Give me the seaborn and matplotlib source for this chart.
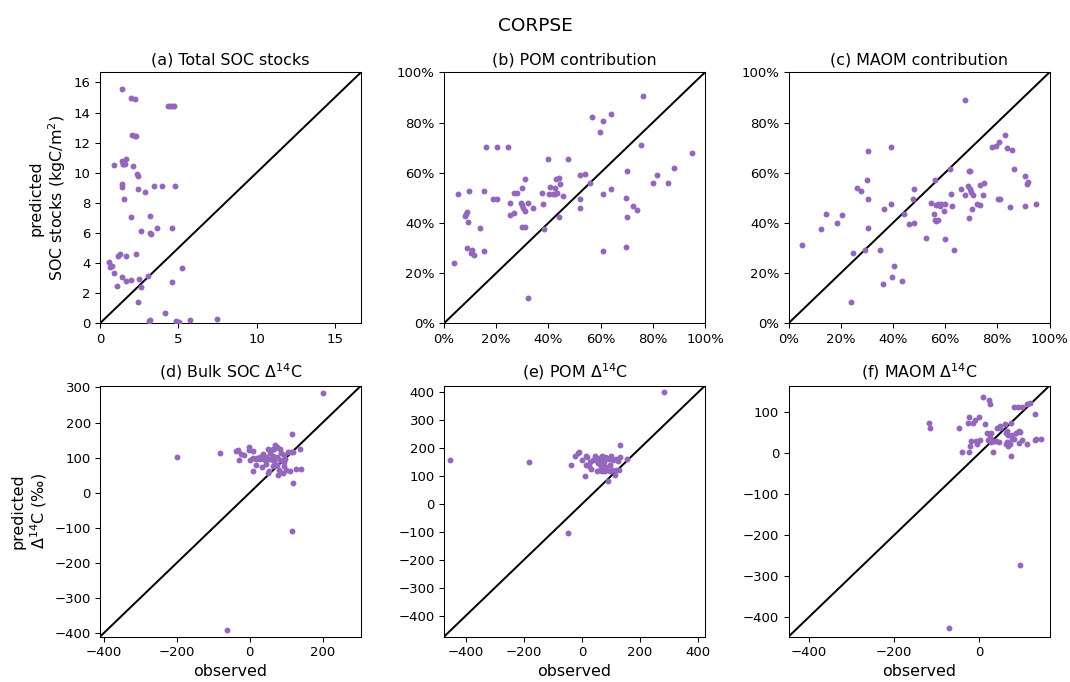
import numpy as np
import pandas as pd
import matplotlib
matplotlib.use("Agg")
import matplotlib.pyplot as plt
import seaborn as sns
from matplotlib.ticker import PercentFormatter

# ---------------- data ----------------
obs_a = [1.43, 1.96, 2.26, 4.32, 4.47, 4.60, 4.70, 2.06, 2.23, 2.32, 0.87, 1.40, 1.49, 1.66, 1.62, 1.45,
         2.10, 2.38, 2.40, 1.40, 1.40, 2.40, 2.89, 3.45, 3.98, 4.79, 1.51, 1.96, 3.21, 2.60, 3.17, 3.26,
         3.64, 4.60, 1.17, 1.28, 1.66, 2.30, 0.60, 0.62, 0.77, 0.87, 1.40, 1.66, 1.98, 2.47, 3.04, 5.23,
         1.09, 2.64, 4.62, 2.43, 4.15, 3.10, 3.21, 4.85, 5.02, 5.77, 7.49]
pred_a = [15.57, 14.94, 14.92, 14.46, 14.46, 14.46, 14.46, 12.48, 12.44, 12.42, 10.53, 10.75, 10.55, 10.90,
          10.58, 10.60, 10.47, 9.90, 9.78, 9.27, 9.05, 8.94, 8.69, 9.09, 9.09, 9.09, 8.25, 7.07, 7.12, 6.16,
          6.03, 5.94, 6.30, 6.32, 4.50, 4.57, 4.48, 4.59, 4.08, 3.75, 3.79, 3.37, 3.06, 2.84, 2.86, 2.93,
          3.15, 3.68, 2.46, 2.39, 2.73, 1.42, 0.71, 0.16, 0.22, 0.16, 0.09, 0.20, 0.27]

obs_b = [0.764, 0.640, 0.567, 0.608, 0.598, 0.160, 0.204, 0.244, 0.756, 0.951, 0.400, 0.474, 0.880, 0.700,
         0.817, 0.522, 0.542, 0.310, 0.430, 0.439, 0.443, 0.799, 0.860, 0.561, 0.405, 0.425, 0.298, 0.152,
         0.096, 0.054, 0.268, 0.278, 0.374, 0.401, 0.419, 0.432, 0.427, 0.455, 0.639, 0.609, 0.186, 0.204,
         0.522, 0.699, 0.253, 0.296, 0.299, 0.304, 0.312, 0.323, 0.378, 0.342, 0.521, 0.725, 0.741, 0.269,
         0.253, 0.086, 0.080, 0.087, 0.442, 0.701, 0.093, 0.138, 0.299, 0.310, 0.384, 0.087, 0.106, 0.103,
         0.116, 0.152, 0.610, 0.699, 0.037, 0.323]
pred_b = [0.907, 0.834, 0.821, 0.807, 0.764, 0.701, 0.701, 0.701, 0.710, 0.680, 0.656, 0.653, 0.618, 0.608,
          0.591, 0.592, 0.595, 0.574, 0.574, 0.580, 0.555, 0.559, 0.558, 0.558, 0.544, 0.538, 0.538, 0.529,
          0.526, 0.514, 0.518, 0.518, 0.521, 0.514, 0.514, 0.519, 0.514, 0.509, 0.537, 0.517, 0.495, 0.495,
          0.495, 0.498, 0.479, 0.481, 0.471, 0.461, 0.446, 0.479, 0.474, 0.459, 0.459, 0.467, 0.453, 0.441,
          0.433, 0.436, 0.429, 0.442, 0.422, 0.422, 0.404, 0.378, 0.384, 0.384, 0.374, 0.300, 0.292, 0.282,
          0.271, 0.287, 0.290, 0.304, 0.240, 0.101]

obs_c = [0.678, 0.830, 0.808, 0.781, 0.794, 0.836, 0.856, 0.305, 0.392, 0.617, 0.690, 0.697, 0.863, 0.908,
         0.919, 0.913, 0.302, 0.560, 0.748, 0.732, 0.261, 0.276, 0.481, 0.660, 0.688, 0.695, 0.700, 0.705,
         0.623, 0.678, 0.746, 0.304, 0.478, 0.803, 0.809, 0.546, 0.574, 0.585, 0.598, 0.580, 0.565, 0.627,
         0.723, 0.733, 0.393, 0.364, 0.847, 0.905, 0.947, 0.704, 0.595, 0.145, 0.204, 0.441, 0.559, 0.186,
         0.461, 0.481, 0.562, 0.571, 0.565, 0.691, 0.303, 0.123, 0.527, 0.601, 0.052, 0.293, 0.350, 0.636,
         0.247, 0.405, 0.396, 0.435, 0.363, 0.238]
pred_c = [0.891, 0.752, 0.721, 0.704, 0.705, 0.699, 0.692, 0.687, 0.703, 0.615, 0.608, 0.608, 0.614, 0.587,
          0.563, 0.554, 0.571, 0.571, 0.559, 0.550, 0.540, 0.526, 0.534, 0.534, 0.546, 0.534, 0.523, 0.511,
          0.517, 0.513, 0.513, 0.494, 0.497, 0.497, 0.497, 0.481, 0.477, 0.477, 0.474, 0.467, 0.471, 0.467,
          0.474, 0.473, 0.477, 0.454, 0.465, 0.466, 0.475, 0.456, 0.449, 0.436, 0.433, 0.436, 0.436, 0.401,
          0.396, 0.400, 0.410, 0.413, 0.408, 0.418, 0.381, 0.375, 0.339, 0.336, 0.311, 0.292, 0.293, 0.293,
          0.279, 0.228, 0.185, 0.170, 0.158, 0.085]

obs_d = [200, -200, -81, -61, 116, 138, 117, 120, 128, 142, 100, 110, 79, 92, 77, 50, 8, 16, -30, -37, -31,
         -24, -16, -3, -2, 9, 0, 20, 27, 35, 41, 46, 52, 58, 64, 70, 76, 66, 82, 105, 112, 119, 95, 97, 94,
         94, 82, 69, 75, 85, 54, 64, 35, 64, 76, 68, 50, 55, 37, 29, 16, 9, 58, 46]
pred_d = [283, 103, 113, -391, 167, 126, -108, 27, 67, 68, 66, 62, 64, 56, 51, 57, 62, 78, 94, 120, 121,
          110, 108, 131, 121, 119, 94, 98, 95, 100, 92, 102, 97, 96, 126, 137, 130, 125, 125, 115, 115, 115,
          108, 96, 87, 76, 94, 78, 80, 113, 61, 76, 73, 104, 102, 90, 125, 114, 110, 103, 97, 100, 96, 83]

obs_e = [283, -455, -182, -49, -36, 91, 9, 130, 155, -24, -15, -10, 0, 13, 18, 15, 29, 38, 32, 53, 26, 61,
         69, 78, 87, 93, 99, 47, 55, 67, 75, 84, 95, 107, 118, 132, 124, 103, 116, 128, 113, 98, 79, 69, 61,
         72, 84, 67, 75, 61, 70, 44, 52]
pred_e = [402, 158, 152, -105, 140, 82, 102, 211, 162, 173, 182, 186, 158, 173, 167, 140, 151, 156, 124,
          117, 137, 164, 173, 168, 164, 160, 170, 158, 146, 137, 149, 131, 139, 158, 161, 168, 154, 123, 123,
          120, 105, 119, 118, 119, 123, 130, 126, 161, 156, 144, 140, 170, 164]

obs_f = [-71, 94, -118, -116, -48, -42, -24, -24, -27, -14, -10, -1, -20, -8, 2, -5, -22, 9, 22, 25, 13, 18,
         28, 24, 20, 27, 33, 39, 45, 31, 49, 64, 59, 75, 62, 67, 64, 71, 74, 77, 82, 77, 86, 92, 96, 93, 100,
         111, 82, 90, 100, 111, 118, 129, 130, 132, 145, 41, 47, 61, 66]
pred_f = [-427, -272, 73, 61, 62, 2, 2, 89, 72, 73, 81, 87, 30, 30, 33, 23, 18, 137, 130, 120, 71, 49, 49,
          38, 31, 26, 29, 30, 28, 2, 61, 53, 71, 73, 23, 16, 26, 21, -6, 44, 35, 35, 50, 53, 52, 25, 33, 23,
          111, 111, 111, 120, 121, 96, 32, 34, 34, 61, 67, 49, 43]

titles = ["(a) Total SOC stocks", "(b) POM contribution", "(c) MAOM contribution",
          "(d) Bulk SOC Δ$^{14}$C", "(e) POM Δ$^{14}$C", "(f) MAOM Δ$^{14}$C"]

# ---------------- figure ----------------
DPI = 95
fig = plt.figure(figsize=(1070 / DPI, 682 / DPI), dpi=DPI)
W, H = 1070, 682
lefts = [100, 444, 788.5]
row_tops = [72.3, 385.7]
ax_w, ax_h = 261, 251

panels = [
    (obs_a, pred_a, (0, 16.67)),
    (obs_b, pred_b, (0, 1)),
    (obs_c, pred_c, (0, 1)),
    (obs_d, pred_d, (-410, 305)),
    (obs_e, pred_e, (-474, 423)),
    (obs_f, pred_f, (-447, 164)),
]

color = "#9467bd"
axes = []
for i, (ox, py, lim) in enumerate(panels):
    r, c = divmod(i, 3)
    left = lefts[c] / W
    bottom = 1 - (row_tops[r] + ax_h) / H
    ax = fig.add_axes([left, bottom, ax_w / W, ax_h / H])
    df = pd.DataFrame({"observed": ox, "predicted": py})
    sns.scatterplot(data=df, x="observed", y="predicted", ax=ax, color=color,
                    s=20, linewidth=0, legend=False, zorder=3)
    ax.plot(lim, lim, color="black", lw=1.5, zorder=2)
    ax.set_xlim(lim)
    ax.set_ylim(lim)
    ax.set_title(titles[i], fontsize=12)
    ax.set_xlabel("")
    ax.set_ylabel("")
    axes.append(ax)

axes[0].set_xticks([0, 5, 10, 15])
axes[0].set_yticks(range(0, 17, 2))
for ax in axes[1:3]:
    ax.set_xticks(np.arange(0, 1.01, 0.2))
    ax.set_yticks(np.arange(0, 1.01, 0.2))
    ax.xaxis.set_major_formatter(PercentFormatter(1, decimals=0))
    ax.yaxis.set_major_formatter(PercentFormatter(1, decimals=0))
axes[3].set_xticks([-400, -200, 0, 200])
axes[3].set_yticks(range(-400, 301, 100))
axes[4].set_xticks([-400, -200, 0, 200, 400])
axes[4].set_yticks(range(-400, 401, 100))
axes[5].set_xticks([-400, -200, 0])
axes[5].set_yticks(range(-400, 101, 100))

axes[0].set_ylabel("predicted\nSOC stocks (kgC/m$^2$)", fontsize=12)
axes[3].set_ylabel("predicted\nΔ$^{14}$C (‰)", fontsize=12)
for ax in axes[3:]:
    ax.set_xlabel("observed", fontsize=12)

fig.suptitle("CORPSE", fontsize=14, y=0.975)
fig.savefig("out.png", dpi=DPI)
